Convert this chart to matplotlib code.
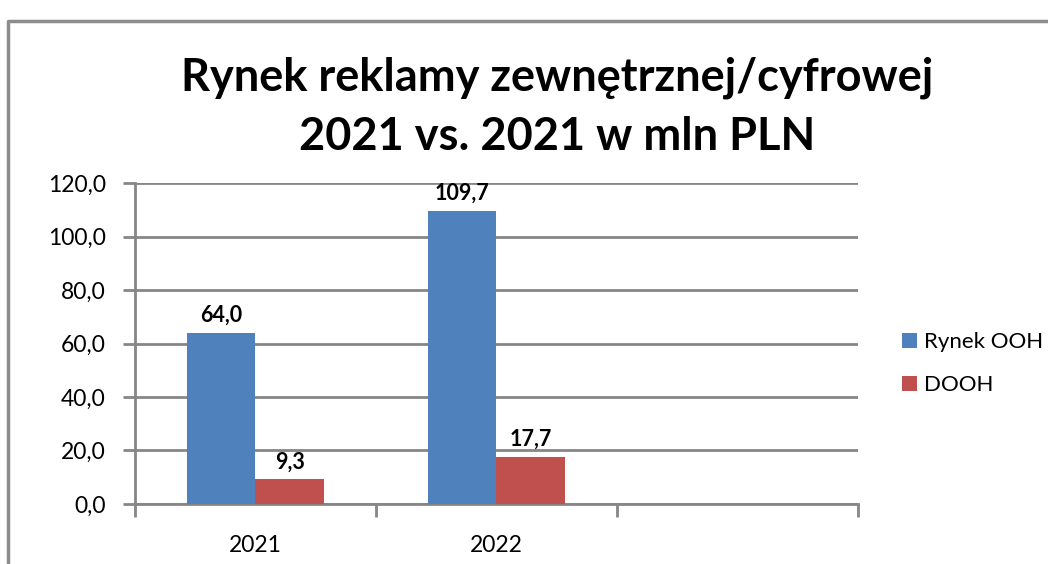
import matplotlib
matplotlib.use("Agg")
import matplotlib.pyplot as plt
import matplotlib.ticker as ticker
import numpy as np

# chart values
categories = ["2021", "2022", ""]
series_names = ["Rynek OOH", "DOOH"]
ooh_values = [64.0, 109.7, np.nan]
dooh_values = [9.3, 17.7, np.nan]
colors = ["#4F81BD", "#C0504D"]

title = "Rynek reklamy zewnętrznej/cyfrowej\n2021 vs. 2021 w mln PLN"

plt.rcParams["font.family"] = ["Lato", "DejaVu Sans"]

fig = plt.figure(figsize=(10.48, 5.64), dpi=100)
ax = fig.add_axes([0.1288, 0.1064, 0.6899, 0.5691])

x = np.arange(len(categories))
w = 0.286
for i, (vals, name) in enumerate(zip([ooh_values, dooh_values], series_names)):
    pos = x + (i - 0.5) * w
    ax.bar(pos, vals, w, color=colors[i], label=name, zorder=3, edgecolor="none")
    for p, v in zip(pos, vals):
        if not np.isnan(v):
            ax.text(p, v + 2.5, ("%.1f" % v).replace(".", ","), ha="center",
                    va="bottom", fontsize=15.5, fontweight="bold", color="black")

ax.set_xlim(-0.5, len(categories) - 0.5)
ax.set_ylim(0, 120)
ax.yaxis.set_major_locator(ticker.MultipleLocator(20))
ax.yaxis.set_major_formatter(ticker.FuncFormatter(lambda v, p: ("%.1f" % v).replace(".", ",")))

# category labels centered, tick marks at category boundaries
ax.set_xticks(np.arange(-0.5, len(categories)), minor=False)
ax.set_xticklabels([])
ax.set_xticks(x, minor=True)
ax.set_xticklabels(categories, minor=True)
ax.tick_params(axis="x", which="minor", length=0, pad=22, labelsize=16.5)
ax.tick_params(axis="x", which="major", length=9, width=2, color="#868686")
ax.tick_params(axis="y", length=9, width=2, color="#868686", pad=12, labelsize=16.5)

ax.grid(axis="y", color="#868686", linewidth=2, zorder=0)
for s in ["top", "right"]:
    ax.spines[s].set_visible(False)
for s in ["left", "bottom"]:
    ax.spines[s].set_color("#868686")
    ax.spines[s].set_linewidth(2)

fig.legend(loc="center left", bbox_to_anchor=(0.842, 0.355), frameon=False,
           fontsize=16, handlelength=0.65, handleheight=0.65,
           handletextpad=0.3, labelspacing=1.05)

fig.text(0.532, 0.81, title, ha="center", va="center", fontsize=32.5,
         fontweight="bold", linespacing=1.5)

# chart area frame (cropped)
fig.add_artist(plt.Line2D([0.0076, 0.0076, 1.0], [0.0, 0.962, 0.962],
                          color="#8c8c8c", linewidth=2.5, transform=fig.transFigure))

fig.savefig("out.png", dpi=100)
